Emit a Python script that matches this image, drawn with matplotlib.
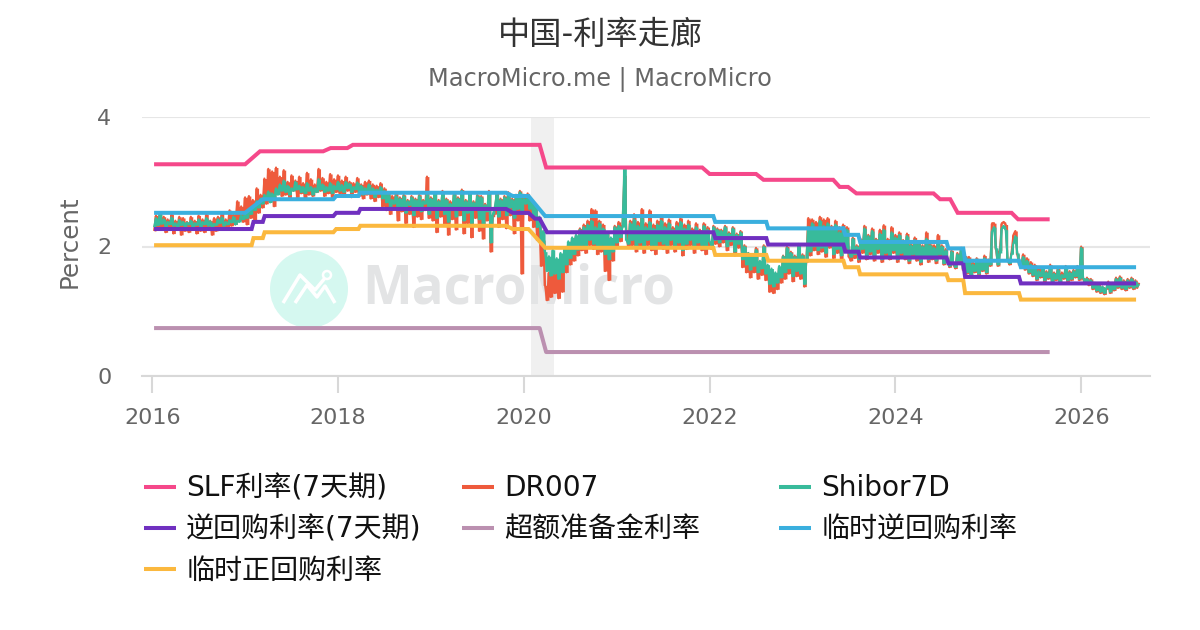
import numpy as np
import matplotlib
matplotlib.use("Agg")
import matplotlib.pyplot as plt
from matplotlib.lines import Line2D
from matplotlib.patches import Ellipse

plt.rcParams['font.family'] = ['DejaVu Sans', 'Noto Sans CJK SC']
plt.rcParams['lines.solid_capstyle'] = 'butt'

title = "中国-利率走廊"
subtitle = "MacroMicro.me | MacroMicro"
ylabel = "Percent"
year_ticks = [2016, 2018, 2020, 2022, 2024, 2026]
y_ticks = [0, 2, 4]
recession = (2020.08, 2020.32)

shibor = [
    2.30,2.44,2.33,2.50,2.35,2.42,2.31,2.38,2.34,2.45,2.32,2.36,2.30,2.41,2.33,2.38,2.31,2.37,2.34,2.40,2.30,2.36,2.33,2.42,2.31,2.38,2.34,2.44,2.32,2.39,2.30,2.35,2.33,2.42,2.36,2.45,2.32,2.38,2.34,2.41,2.37,2.46,2.34,2.40,2.38,2.48,2.42,2.52,
    2.44,2.56,2.50,2.62,2.56,2.70,2.60,2.74,2.66,2.80,2.72,2.85,2.68,2.82,2.74,2.90,2.80,2.96,2.86,3.02,2.84,2.94,2.80,2.90,2.86,3.00,2.88,2.94,2.84,2.92,2.82,2.98,2.86,2.92,2.80,2.90,2.84,3.04,2.88,2.96,2.84,2.92,2.86,2.98,2.82,2.94,2.88,3.00,
    2.86,2.95,2.84,3.00,2.90,2.97,2.84,2.92,2.88,2.99,2.82,2.94,2.80,2.90,2.86,2.96,2.82,2.90,2.76,2.88,2.84,2.92,2.74,2.86,2.68,2.80,2.62,2.72,2.66,2.78,2.56,2.74,2.62,2.78,2.52,2.70,2.64,2.76,2.48,2.72,2.60,2.78,2.54,2.70,2.66,2.80,2.50,2.74,
    2.62,2.82,2.44,2.70,2.58,2.84,2.50,2.72,2.38,2.66,2.56,2.80,2.46,2.74,2.62,2.86,2.40,2.70,2.52,2.82,2.36,2.68,2.58,2.78,2.42,2.76,2.30,2.64,2.54,2.84,2.06,2.50,2.60,2.80,2.46,2.72,2.56,2.76,2.48,2.82,2.60,2.72,2.44,2.78,2.58,2.84,2.50,2.74,
    2.66,2.80,2.58,2.72,2.46,2.64,2.30,2.46,2.08,2.24,1.92,1.62,1.85,1.55,1.95,1.58,1.82,1.50,1.90,1.60,1.98,1.72,2.08,1.82,2.14,1.88,2.18,1.95,2.26,2.02,2.30,2.00,2.34,2.10,2.40,2.04,2.30,1.96,2.36,2.02,2.28,1.88,2.20,1.80,2.14,1.92,2.30,2.06,
    2.32,2.14,2.30,3.22,2.10,2.04,2.36,2.10,2.42,2.00,2.32,2.06,2.44,1.98,2.30,2.10,2.38,2.02,2.28,1.96,2.34,2.08,2.40,2.04,2.30,1.98,2.36,2.10,2.26,2.00,2.32,2.06,2.38,1.94,2.28,2.04,2.34,2.10,2.24,1.98,2.30,2.06,2.22,2.02,2.32,1.96,2.26,2.08,
    2.02,2.30,2.10,2.26,2.06,2.24,2.12,2.30,2.00,2.20,2.08,2.28,1.92,2.18,2.04,2.22,1.80,2.00,1.72,1.90,1.64,1.85,1.70,1.95,1.60,1.78,1.66,2.00,1.58,1.72,1.42,1.66,1.38,1.60,1.44,1.70,1.52,1.85,1.60,1.98,1.66,1.90,1.54,1.84,1.62,2.02,1.58,1.86,
    1.42,1.80,2.30,1.92,2.36,2.00,2.28,1.94,2.40,1.98,2.32,1.90,2.36,2.04,2.26,1.88,2.34,1.96,2.22,1.86,2.30,1.98,2.26,1.90,1.84,2.12,1.88,2.00,1.80,2.10,1.96,2.28,1.84,2.16,1.92,2.24,1.82,2.10,1.96,2.20,1.80,2.26,1.90,2.08,1.84,2.22,1.94,2.14,
    1.80,2.18,1.90,2.06,1.84,2.16,1.78,2.02,1.88,2.10,1.82,2.04,1.76,2.00,1.86,2.12,1.80,2.02,1.84,1.98,1.78,2.08,1.88,2.00,1.74,1.94,1.80,1.70,1.92,1.74,1.68,1.88,1.78,1.95,1.66,1.84,1.60,1.80,1.56,1.72,1.62,1.80,1.58,1.76,1.64,1.82,1.60,1.78,
    1.72,2.24,2.30,1.98,1.72,1.90,2.28,2.32,2.26,1.80,1.74,1.88,2.05,2.16,1.90,1.74,1.70,1.84,1.66,1.78,1.60,1.72,1.56,1.68,1.50,1.62,1.54,1.66,1.48,1.60,1.52,1.68,1.46,1.58,1.50,1.64,1.44,1.56,1.52,1.66,1.48,1.60,1.50,1.62,1.54,1.68,1.50,1.98,
    1.52,1.44,1.50,1.42,1.48,1.36,1.42,1.32,1.40,1.30,1.38,1.28,1.36,1.44,1.30,1.42,1.34,1.50,1.38,1.52,1.36,1.46,1.34,1.48,1.38,1.50,1.36,1.46,1.38,1.42,
]
dr007 = [
    2.24,2.48,2.30,2.52,2.26,2.46,2.22,2.42,2.28,2.50,2.20,2.40,2.26,2.46,2.18,2.44,2.24,2.38,2.22,2.46,2.26,2.40,2.20,2.48,2.24,2.42,2.22,2.50,2.26,2.40,2.18,2.44,2.24,2.46,2.26,2.52,2.28,2.42,2.30,2.56,2.32,2.50,2.34,2.70,2.40,2.62,2.38,2.76,
    2.34,2.78,2.44,2.72,2.38,2.90,2.52,2.80,2.60,3.05,2.66,3.20,2.70,3.16,2.62,3.22,2.84,3.08,2.78,3.18,2.80,3.00,2.74,3.10,2.86,3.02,2.76,3.08,2.82,2.98,2.74,3.14,2.80,3.04,2.78,2.96,2.84,3.20,2.86,3.06,2.78,3.00,2.82,3.12,2.76,3.04,2.84,3.10,
    2.82,3.02,2.78,3.08,2.86,3.00,2.76,2.98,2.84,3.06,2.78,2.96,2.74,3.00,2.80,3.02,2.74,2.96,2.70,2.94,2.76,2.98,2.62,2.90,2.56,2.84,2.50,2.78,2.58,2.82,2.40,2.76,2.54,2.80,2.36,2.72,2.50,2.78,2.30,2.74,2.46,2.80,2.42,2.72,2.56,3.08,2.44,2.76,
    2.40,2.84,2.22,2.72,2.46,2.86,2.34,2.74,2.18,2.70,2.42,2.82,2.26,2.76,2.48,2.88,2.20,2.72,2.36,2.84,2.14,2.70,2.44,2.80,2.24,2.78,2.12,2.66,2.40,2.86,1.92,2.46,2.50,2.82,2.30,2.74,2.42,2.78,2.28,2.84,2.48,2.74,2.20,2.80,2.40,2.86,1.58,2.80,
    2.50,2.82,2.40,2.70,2.30,2.62,2.10,2.40,1.70,2.10,1.40,1.17,1.60,1.22,1.75,1.28,1.58,1.20,1.72,1.30,1.90,1.60,2.02,1.72,2.10,1.78,2.16,1.86,2.28,1.94,2.34,1.90,2.40,2.02,2.58,1.96,2.56,1.88,2.40,1.92,2.34,1.62,2.20,1.48,2.10,1.78,2.32,2.00,
    2.38,2.08,2.34,3.10,2.26,1.98,2.40,2.02,2.50,1.92,2.38,1.98,2.58,1.90,2.36,2.02,2.56,1.94,2.34,1.88,2.40,2.00,2.46,1.96,2.36,1.90,2.42,2.02,2.30,1.92,2.38,1.98,2.44,1.86,2.34,1.96,2.40,2.02,2.28,1.90,2.36,1.98,2.26,1.94,2.36,1.88,2.30,2.00,
    1.96,2.32,2.04,2.28,2.00,2.26,2.06,2.32,1.94,2.22,2.02,2.30,1.86,2.20,1.98,2.24,1.68,2.02,1.60,1.90,1.52,1.86,1.60,1.98,1.50,1.76,1.56,2.02,1.48,1.70,1.30,1.62,1.28,1.58,1.34,1.68,1.44,1.86,1.50,2.00,1.58,1.92,1.46,1.86,1.54,2.04,1.50,1.88,
    1.38,1.76,2.44,1.86,2.42,1.94,2.38,1.88,2.46,1.92,2.42,1.84,2.44,1.98,2.32,1.82,2.40,1.90,2.30,1.80,2.34,1.92,2.30,1.84,1.78,2.14,1.82,2.02,1.76,2.12,1.90,2.32,1.80,2.18,1.88,2.28,1.78,2.12,1.90,2.26,1.76,2.33,1.86,2.12,1.80,2.30,1.90,2.18,
    1.76,2.22,1.86,2.10,1.80,2.20,1.74,2.04,1.84,2.14,1.78,2.08,1.72,2.02,1.82,2.22,1.76,2.04,1.80,2.02,1.74,2.18,1.84,2.02,1.72,1.96,1.76,1.68,1.94,1.72,1.66,1.90,1.74,1.98,1.64,1.86,1.58,1.84,1.54,1.76,1.60,1.82,1.56,1.78,1.62,1.86,1.58,1.80,
    1.70,2.36,2.36,1.96,1.70,1.94,2.36,2.38,2.34,1.78,1.72,1.90,2.18,2.24,1.88,1.72,1.68,1.88,1.64,1.82,1.58,1.76,1.54,1.72,1.48,1.66,1.52,1.68,1.46,1.62,1.50,1.72,1.44,1.60,1.48,1.66,1.42,1.60,1.50,1.70,1.46,1.62,1.48,1.64,1.52,1.70,1.48,2.00,
    1.50,1.42,1.52,1.40,1.50,1.34,1.44,1.30,1.42,1.28,1.38,1.26,1.34,1.46,1.28,1.44,1.32,1.52,1.36,1.54,1.34,1.48,1.32,1.50,1.36,1.52,1.34,1.48,1.36,1.44,
]

slf_dates = [2016.02,2017.0,2017.16,2017.84,2017.92,2018.1,2018.16,2020.17,2020.24,2021.92,2022.0,2022.5,2022.58,2023.33,2023.4,2023.49,2023.58,2024.41,2024.48,2024.59,2024.67,2025.25,2025.32,2025.66]
slf_vals = [3.27,3.27,3.47,3.47,3.52,3.52,3.57,3.57,3.22,3.22,3.12,3.12,3.03,3.03,2.92,2.92,2.82,2.82,2.73,2.73,2.52,2.52,2.42,2.42]

reserve_dates = [2016.02,2020.17,2020.24,2025.66]
reserve_vals = [0.74,0.74,0.37,0.37]

rr_dates = [2016.02,2017.07,2017.09,2017.19,2017.21,2017.95,2017.98,2018.22,2018.24,2019.81,2019.88,2020.05,2020.12,2020.17,2020.25,2022.04,2022.06,2022.61,2022.63,2023.44,2023.46,2023.60,2023.62,2024.55,2024.57,2024.73,2024.75,2025.33,2025.35,2026.59]
rr_vals = [2.27,2.27,2.38,2.38,2.47,2.47,2.52,2.52,2.58,2.58,2.52,2.52,2.43,2.43,2.22,2.22,2.13,2.13,2.03,2.03,1.92,1.92,1.83,1.83,1.74,1.74,1.53,1.53,1.43,1.43]

trr_dates = [2016.02,2017.0,2017.09,2017.19,2017.95,2017.98,2018.22,2018.24,2019.81,2019.88,2020.05,2020.23,2022.04,2022.06,2022.61,2022.63,2023.44,2023.46,2023.60,2023.62,2024.55,2024.57,2024.73,2024.75,2025.33,2025.35,2026.59]
trr_vals = [2.52,2.52,2.62,2.73,2.73,2.78,2.78,2.83,2.83,2.78,2.78,2.47,2.47,2.38,2.38,2.28,2.28,2.18,2.18,2.07,2.07,1.97,1.97,1.78,1.78,1.68,1.68]

tp_dates = [2016.02,2017.07,2017.09,2017.19,2017.21,2017.95,2017.98,2018.22,2018.24,2019.81,2019.88,2020.05,2020.23,2022.04,2022.06,2022.61,2022.63,2023.44,2023.46,2023.60,2023.62,2024.55,2024.57,2024.73,2024.75,2025.33,2025.35,2026.59]
tp_vals = [2.02,2.02,2.13,2.13,2.22,2.22,2.27,2.27,2.32,2.32,2.27,2.27,1.98,1.98,1.87,1.87,1.78,1.78,1.68,1.68,1.57,1.57,1.48,1.48,1.28,1.28,1.18,1.18]

COL = dict(slf="#f5488a", dr="#ee5a3c", sh="#38bb9b", rr="#7030c0", res="#bb90b0", trr="#3aafde", tp="#fbb83e")

fig = plt.figure(figsize=(12, 6.3), dpi=100, facecolor="white")
ax = fig.add_axes([142/1200, 1-376/630, (1150-142)/1200, (376-117)/630])
ax.set_xlim(2015.89, 2026.74)
ax.set_ylim(0, 4)

# watermark
ft = fig.transFigure
ax.add_patch(Ellipse((309/1200, 1-289/630), 78/1200, 78/630, transform=ft, fc="#d5f8f0", ec="none", zorder=0.2, clip_on=False))
lx = np.array([283, 300, 315, 325])/1200
ly = 1-np.array([303, 275, 290, 278])/630
ax.add_line(Line2D(lx, ly, transform=ft, color="white", lw=2.5, zorder=0.3, clip_on=False))
lx2 = np.array([295, 307, 317, 325, 335])/1200
ly2 = 1-np.array([303, 285, 297, 286, 303])/630
ax.add_line(Line2D(lx2, ly2, transform=ft, color="white", lw=2.5, zorder=0.3, clip_on=False))
ax.add_patch(Ellipse((327/1200, 1-275/630), 8/1200, 8/630, transform=ft, fc="#d5f8f0", ec="white", lw=1.8, zorder=0.35, clip_on=False))
ax.text(362/1200, 1-290/630, "MacroMicro", transform=ft, family="Open Sans", weight="bold", fontsize=38,
        color="#e3e4e5", va="center", ha="left", zorder=0.25, clip_on=False)

ax.axvspan(*recession, color="#f0f0f0", lw=0, zorder=0.15)
ax.set_yticks(y_ticks)
ax.set_xticks(year_ticks)
ax.grid(axis="y", color="#e6e6e6", lw=1.5, zorder=0.5)
ax.set_axisbelow(True)
for s in ["top", "left", "right"]:
    ax.spines[s].set_visible(False)
ax.spines["bottom"].set_color("#d8d8d8")
ax.spines["bottom"].set_linewidth(1.5)
ax.tick_params(axis="y", length=0, labelsize=16, labelcolor="#666666", pad=22)
ax.tick_params(axis="x", length=12, width=1.5, color="#d8d8d8", labelsize=16, labelcolor="#666666", pad=11)
ax.set_ylabel(ylabel, fontsize=17.7, color="#666666")
ax.yaxis.set_label_coords((82-142)/1008, 0.52)
ax.patch.set_alpha(0)


def draw_band(values, color, z, label):
    v = np.asarray(values)
    dates = 2016.02 + np.arange(len(v)) / 48
    lo = np.minimum(v[:-1], v[1:])
    hi = np.maximum(v[:-1], v[1:])
    ax.fill_between(dates[:-1], lo, hi, step="post", color=color, lw=0, zorder=z)
    return ax.plot(dates, v, color=color, lw=1.5, zorder=z, label=label)[0]


LW = 2.9
h_slf, = ax.plot(slf_dates, slf_vals, color=COL["slf"], lw=LW, zorder=3, label="SLF利率(7天期)", solid_joinstyle="miter")
h_dr = draw_band(dr007, COL["dr"], 2, "DR007")
h_sh = draw_band(shibor, COL["sh"], 2.1, "Shibor7D")
h_rr, = ax.plot(rr_dates, rr_vals, color=COL["rr"], lw=LW, zorder=3.2, label="逆回购利率(7天期)", solid_joinstyle="miter")
h_res, = ax.plot(reserve_dates, reserve_vals, color=COL["res"], lw=LW, zorder=3, label="超额准备金利率")
h_trr, = ax.plot(trr_dates, trr_vals, color=COL["trr"], lw=LW, zorder=3.3, label="临时逆回购利率", solid_joinstyle="miter")
h_tp, = ax.plot(tp_dates, tp_vals, color=COL["tp"], lw=LW, zorder=3.1, label="临时正回购利率", solid_joinstyle="miter")

fig.text(600.5/1200, 1-35/630, title, fontsize=23.2, color="#333333", ha="center", va="center")
fig.text(600/1200, 1-80/630, subtitle, fontsize=17.25, color="#666666", ha="center", va="center")

for handles, x in [([h_slf, h_rr, h_tp], 122), ([h_dr, h_res], 440), ([h_sh, h_trr], 757)]:
    leg = fig.legend(handles=handles, loc="upper left", bbox_to_anchor=(x/1200, 1-452/630),
                     frameon=False, fontsize=20.2, handlelength=1.14, handletextpad=0.35,
                     labelspacing=0.47, borderpad=0.3, labelcolor="#111111")
    for line in leg.get_lines():
        line.set_linewidth(2.9)

fig.savefig("out.png", dpi=100)
